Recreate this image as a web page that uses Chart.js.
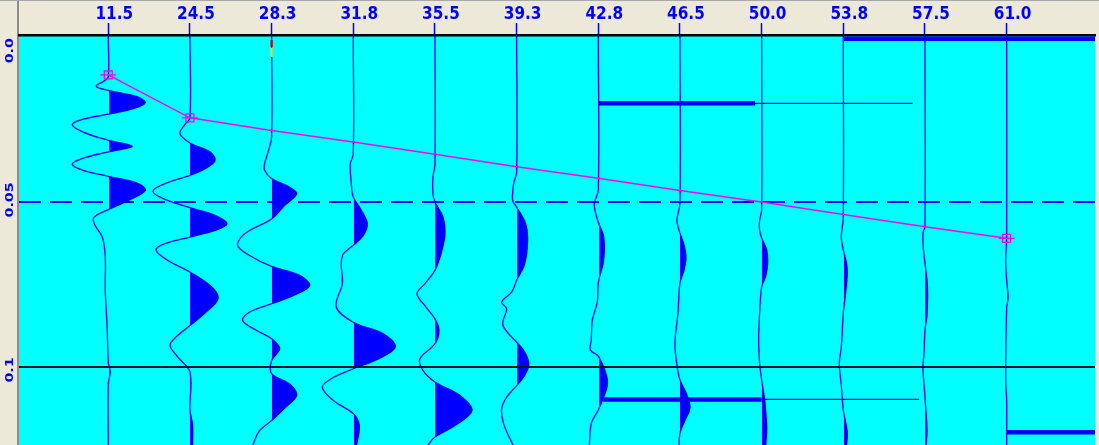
<!DOCTYPE html>
<html>
<head>
<meta charset="utf-8">
<script src="https://cdn.jsdelivr.net/npm/chart.js@4.4.1/dist/chart.umd.min.js"></script>
<style>
  html, body { margin: 0; padding: 0; background: #ece9d8; overflow: hidden; }
</style>
</head>
<body>
<canvas id="seis" width="1099" height="445"></canvas>
<script>
// source offsets (top axis) and first-break picks (ms)
const offsets = [11.5, 24.5, 28.3, 31.8, 35.5, 39.3, 42.8, 46.5, 50.0, 53.8, 57.5, 61.0];
const picks = [11.5, 24.5, 28.3, 31.8, 35.5, 39.3, 42.8, 46.5, 50.0, 53.8, 57.5, 61.0];
const markedPicks = [0, 1, 11];

// time axis labels (seconds) and their values in ms
const timeTicks = [0, 50, 100];
const timeLabels = ['0.0', '0.05', '0.1'];

// traces: [time ms, amplitude]
const trace0 = [[0,0],[12.1,0],[13.3,-4],[14.9,-12],[16.2,0],[18.0,28],[19.9,37],[21.7,25],[23.4,0],[24.9,-25],[26.5,-36],[28.8,-25],[31.3,0],[33.1,24],[34.8,0],[36.9,-27],[38.6,-36],[40.4,-25],[42.2,0],[44.4,30],[46.5,37],[49.5,20],[52.3,0],[54.5,-14],[56.6,-14],[60.6,-6],[66.7,-3],[76.8,-3],[88.9,-1],[98.5,0],[101.5,2],[105.1,0],[124,0]];
const trace1 = [[0,0],[24.5,0],[26.5,-5],[29.3,-10],[32.1,0],[34.8,20],[37.4,25],[39.9,15],[41.9,0],[44.4,-25],[46.7,-37],[49.2,-25],[51.7,0],[54.0,25],[56.6,37],[58.6,25],[60.6,0],[62.6,-25],[64.6,-34],[67.7,-22],[71.2,0],[75.8,22],[79.3,28],[83.3,16],[87.4,0],[90.9,-14],[93.4,-20],[97.0,-12],[101.5,0],[113.1,0],[117.2,2.5],[124,2.5]];
const trace2 = [[0,0],[30.3,0],[34.3,-3],[38.4,-7],[40.4,-7],[42.9,0],[45.5,18],[47.5,25],[51.0,13],[55.1,0],[59.6,-27],[63.1,-34],[66.2,-22],[69.5,0],[72.2,28],[75.3,38],[78.3,22],[80.8,0],[83.3,-22],[85.9,-29],[88.9,-15],[91.4,0],[94.4,8],[98.0,0],[102.0,0],[105.1,18],[108.6,25],[112.1,14],[116.2,0],[119.2,-12],[122.2,-17],[124,-19]];
const trace3 = [[0,0],[35.4,0],[38.4,-3],[44.4,-2],[48.5,0],[52.5,8],[56.6,14],[60.1,10],[63.1,0],[65.7,-10],[68.7,-12],[74.7,-11],[81.8,-17],[86.4,0],[89.9,30],[93.9,42],[97.5,25],[100.5,0],[103.5,-22],[106.1,-31],[110.1,-20],[114.1,0],[117.7,6],[124,3]];
const trace4 = [[0,0],[38.4,0],[42.4,-2],[47.5,-2],[50.0,0],[54.5,8],[59.6,10],[64.6,7],[66.7,5],[70.7,0],[74.7,-10],[77.8,-18],[81.8,-9],[85.4,0],[88.9,4],[92.9,0],[97.5,-15],[101.0,-12],[104.5,0],[108.6,25],[113.1,37],[117.7,20],[121.2,0],[124,-8]];
const trace5 = [[0,0],[40.9,0],[44.4,-3],[49.5,-4],[51.5,0],[56.6,9],[61.6,11],[68.7,8],[73.7,0],[77.3,-5],[80.3,-15],[82.3,-10],[86.9,-14],[89.9,-8],[92.4,0],[96.0,9],[99.5,12],[103.0,7],[105.6,0],[109.1,-10],[112.6,-15],[117.2,-13],[124,-3]];
const trace6 = [[0,0],[46.4,0],[50.3,-4],[53.0,-3],[56.1,0],[60.0,5],[63.6,6],[68.2,5],[74.5,0],[80.3,-1],[85.8,-6],[91.8,-7],[94.8,-8],[96.7,0],[102.4,8],[105.5,9],[109.4,5],[113.0,0],[117.0,-7],[124,-9]];
const trace7 = [[0,0],[50.3,0],[55.5,-3],[59.4,0],[63.0,4],[66.7,6],[70.6,4],[74.5,0],[83.6,-2],[92.7,-5],[99.4,-3],[103.9,0],[108.5,7],[112.4,10],[116.1,5],[120.0,0],[124,-1]];
const trace8 = [[0,0],[52.4,0],[55.5,-2],[58.5,-2],[60.9,0],[64.5,5],[68.5,6],[72.4,4],[75.8,0],[83.6,-2],[91.8,-3],[98.8,-2],[103.9,0],[110.0,3],[118.2,5],[124,4]];
const trace9 = [[0,0],[54.5,0],[60.6,-2],[64.5,0],[68.2,3],[71.5,4],[78.2,2],[83.6,0],[93.9,-2],[98.8,-4],[105.5,-2],[113.0,0],[120.0,4],[124,3]];
const trace10 = [[0,0],[57.3,0],[59.4,-2],[64.5,-1.5],[68.5,0],[75.8,2.5],[84.2,2],[88.8,0],[95.8,-1],[100.3,-2],[109.1,0],[119.1,2],[124,1]];
const trace11 = [[0,0],[60.9,0],[67.6,-1],[73.6,0],[79.1,1.5],[82.1,0],[103.9,-1],[110.0,0],[124,0]];
const traces = [trace0, trace1, trace2, trace3, trace4, trace5, trace6, trace7, trace8, trace9, trace10, trace11];

// horizontal marker bars: [time ms, from trace, to trace]
const heavyBars = [[20.1, 6.0, 7.92], [109.8, 6.06, 8.0], [119.7, 11.0, 12.2], [0.5, 9.0, 12.2]];
const lightBars = [[20.1, 7.92, 9.85], [109.8, 8.0, 9.93]];
// coloured flag at the top of trace 2: [trace, from ms, to ms]
const flagRed = [2, 0.9, 3.0];
const flagYellow = [2, 3.3, 6.1];

const AMP_GAIN = 1 / 81.67;   // amplitude units -> trace spacing
const X_MIN = -1.093, X_MAX = 12.082;
const T_MIN = -0.6, T_MAX = 123.6;
const BLUE = '#0000ff';

const datasets = [];

// picks line + markers
const pickPts = picks.map((t, i) => ({ x: i, y: t }));
datasets.push({
  data: pickPts, showLine: true, borderColor: '#ff00ff', borderWidth: 1.5,
  pointStyle: 'rect',
  pointRadius: ctx => markedPicks.includes(ctx.dataIndex) ? 5.6 : 0,
  pointBorderColor: '#ff00ff', pointBackgroundColor: 'rgba(0,0,0,0)', pointBorderWidth: 1.3,
  order: 0
});
datasets.push({
  data: pickPts, showLine: false, pointStyle: 'line',
  pointRadius: ctx => markedPicks.includes(ctx.dataIndex) ? 8 : 0,
  pointBorderColor: '#ff00ff', pointBorderWidth: 1.3, order: 0
});

// 0.05 dashed and 0.1 solid time lines
datasets.push({
  data: [{ x: X_MIN, y: timeTicks[1] }, { x: X_MAX, y: timeTicks[1] }],
  showLine: true, borderColor: BLUE, borderWidth: 2, borderDash: [22, 9], pointRadius: 0, order: 1
});
datasets.push({
  data: [{ x: X_MIN, y: timeTicks[2] }, { x: X_MAX, y: timeTicks[2] }],
  showLine: true, borderColor: '#001818', borderWidth: 2, pointRadius: 0, order: 1
});

heavyBars.forEach(b => datasets.push({
  data: [{ x: b[1], y: b[0] }, { x: b[2], y: b[0] }],
  showLine: true, borderColor: BLUE, borderWidth: 4.5, pointRadius: 0, order: 2
}));
lightBars.forEach(b => datasets.push({
  data: [{ x: b[1], y: b[0] }, { x: b[2], y: b[0] }],
  showLine: true, borderColor: BLUE, borderWidth: 1.3, pointRadius: 0, order: 2
}));
[[flagRed, '#d00000'], [flagYellow, '#c8f050']].forEach(([f, col]) => datasets.push({
  data: [{ x: f[0], y: f[1] }, { x: f[0], y: f[2] }],
  showLine: true, borderColor: col, borderWidth: 2.2, pointRadius: 0, order: 2
}));

// wiggle traces
traces.forEach((tr, i) => {
  datasets.push({
    traceIndex: i,
    data: [{ x: i, y: T_MIN - 1 }].concat(tr.map(p => ({ x: i + p[1] * AMP_GAIN, y: p[0] }))),
    showLine: true, borderColor: BLUE, borderWidth: 1.3,
    tension: 0.35, pointRadius: 0, order: 3
  });
});

const frame = {
  id: 'frame',
  beforeDraw(chart) {
    const { ctx, chartArea: a, width, height } = chart;
    ctx.save();
    ctx.fillStyle = '#ece9d8';
    ctx.fillRect(0, 0, width, height);
    ctx.fillStyle = '#00ffff';
    ctx.fillRect(a.left, a.top, a.right - a.left, a.bottom - a.top);
    ctx.fillStyle = '#8c8c8c';
    ctx.fillRect(a.left - 2, 0, 2, height);
    ctx.fillStyle = '#a8a8a8';
    ctx.fillRect(0, 0, width, 1);
    ctx.restore();
  }
};

// variable-area fill: area between each wiggle and its baseline, right side only
const lobeFill = {
  id: 'lobeFill',
  beforeDatasetsDraw(chart) {
    const { ctx, chartArea: a, scales: { x } } = chart;
    chart.data.datasets.forEach((ds, k) => {
      if (ds.traceIndex === undefined) return;
      const line = chart.getDatasetMeta(k).dataset;
      if (!line) return;
      line.updateControlPoints(a, 'x');
      const pts = line.points;
      const base = x.getPixelForValue(ds.traceIndex);
      const clipX = Math.ceil(base);
      ctx.save();
      ctx.beginPath();
      ctx.rect(clipX, a.top, a.right - clipX, a.bottom - a.top);
      ctx.clip();
      ctx.beginPath();
      line.path(ctx);
      ctx.lineTo(base, pts[pts.length - 1].y);
      ctx.lineTo(base, pts[0].y);
      ctx.closePath();
      ctx.fillStyle = BLUE;
      ctx.fill();
      ctx.restore();
    });
  }
};

const sideLabels = {
  id: 'sideLabels',
  afterDraw(chart) {
    const { ctx, chartArea: a, scales: { y } } = chart;
    const stretch = 1.3;
    ctx.save();
    ctx.font = 'bold 11px "DejaVu Sans"';
    ctx.fillStyle = BLUE;
    ctx.textAlign = 'left';
    ctx.textBaseline = 'middle';
    timeTicks.forEach((v, k) => {
      const txt = timeLabels[k];
      const w = ctx.measureText(txt).width * stretch;
      const start = Math.max(y.getPixelForValue(v) + 15.5, a.top + w + 3);
      ctx.save();
      ctx.translate(10.3, start);
      ctx.rotate(-Math.PI / 2);
      ctx.scale(stretch, 1);
      ctx.fillText(txt, 0, 0);
      ctx.restore();
    });
    ctx.restore();
  }
};

new Chart(document.getElementById('seis'), {
  type: 'scatter',
  data: { datasets },
  options: {
    responsive: false,
    animation: false,
    events: [],
    layout: { autoPadding: false, padding: { left: 19, right: 4, top: 0, bottom: 0 } },
    plugins: { legend: { display: false }, tooltip: { enabled: false } },
    scales: {
      x: {
        type: 'linear', position: 'top', min: X_MIN, max: X_MAX,
        afterBuildTicks: s => { s.ticks = offsets.map((_, i) => ({ value: i })); },
        afterFit: s => { s.height = 35; },
        ticks: {
          callback: (v, idx) => offsets[idx].toFixed(1),
          color: BLUE, padding: -2, labelOffset: 6, maxRotation: 0, autoSkip: false,
          font: { family: '"Liberation Sans Narrow", "DejaVu Sans Condensed", sans-serif', size: 17, weight: 'bold' }
        },
        grid: { drawOnChartArea: false, tickLength: 12, tickColor: BLUE, tickWidth: 1.5 },
        border: { color: '#000000', width: 2.4 }
      },
      y: {
        type: 'linear', reverse: true, min: T_MIN, max: T_MAX, display: false
      }
    }
  },
  plugins: [frame, lobeFill, sideLabels]
});
</script>
</body>
</html>
